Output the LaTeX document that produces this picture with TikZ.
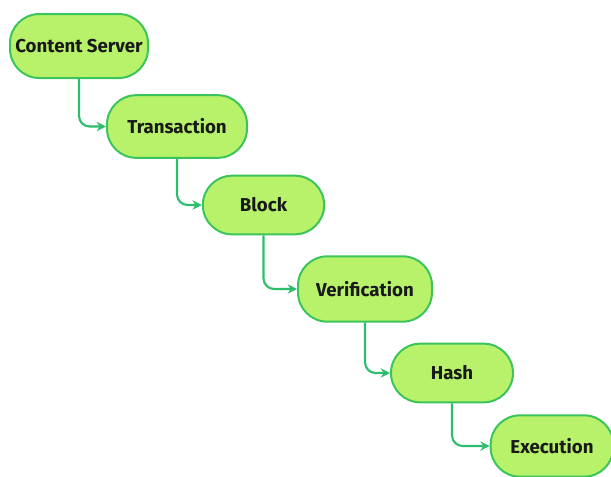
\documentclass[tikz,border=0pt]{standalone}
\usepackage{fontspec}
\setmainfont{Fira Sans}
\usetikzlibrary{arrows.meta}
\definecolor{boxfill}{HTML}{B8F26A}
\definecolor{boxline}{HTML}{3CC45C}
\definecolor{linkcol}{HTML}{2DBE6C}
\tikzset{
  stepbox/.style={draw=boxline, fill=boxfill, line width=1.5pt, rounded corners=22pt,
    minimum height=46pt, font=\bfseries\fontsize{14}{16}\selectfont, text=black!90, inner sep=0pt},
  link/.style={draw=linkcol, line width=1.6pt, rounded corners=8pt,
    -{Stealth[length=7pt,width=7pt]}}
}
\begin{document}
\begin{tikzpicture}[x=0.75pt,y=-0.75pt]
\useasboundingbox (0,0) rectangle (611,476);
\clip (0,0) rectangle (611,476);
\node[stepbox, minimum width=103.5pt, minimum height=48pt] (cs) at (79,46) {Content Server};
\node[stepbox, minimum width=105pt, minimum height=47pt] (tr) at (177,126.5) {Transaction};
\node[stepbox, minimum width=91pt, minimum height=44pt] (bl) at (263.5,205) {Block};
\node[stepbox, minimum width=100.5pt, minimum height=49pt] (ve) at (365,289) {Verification};
\node[stepbox, minimum width=91.5pt, minimum height=44pt] (ha) at (452,373) {Hash};
\node[stepbox, minimum width=92pt, minimum height=46pt] (ex) at (552,446) {Execution};
\draw[link] (cs.south) |- (tr.west);
\draw[link] (tr.south) |- (bl.west);
\draw[link] (bl.south) |- (ve.west);
\draw[link] (ve.south) |- (ha.west);
\draw[link] (ha.south) |- (ex.west);
\end{tikzpicture}
\end{document}
